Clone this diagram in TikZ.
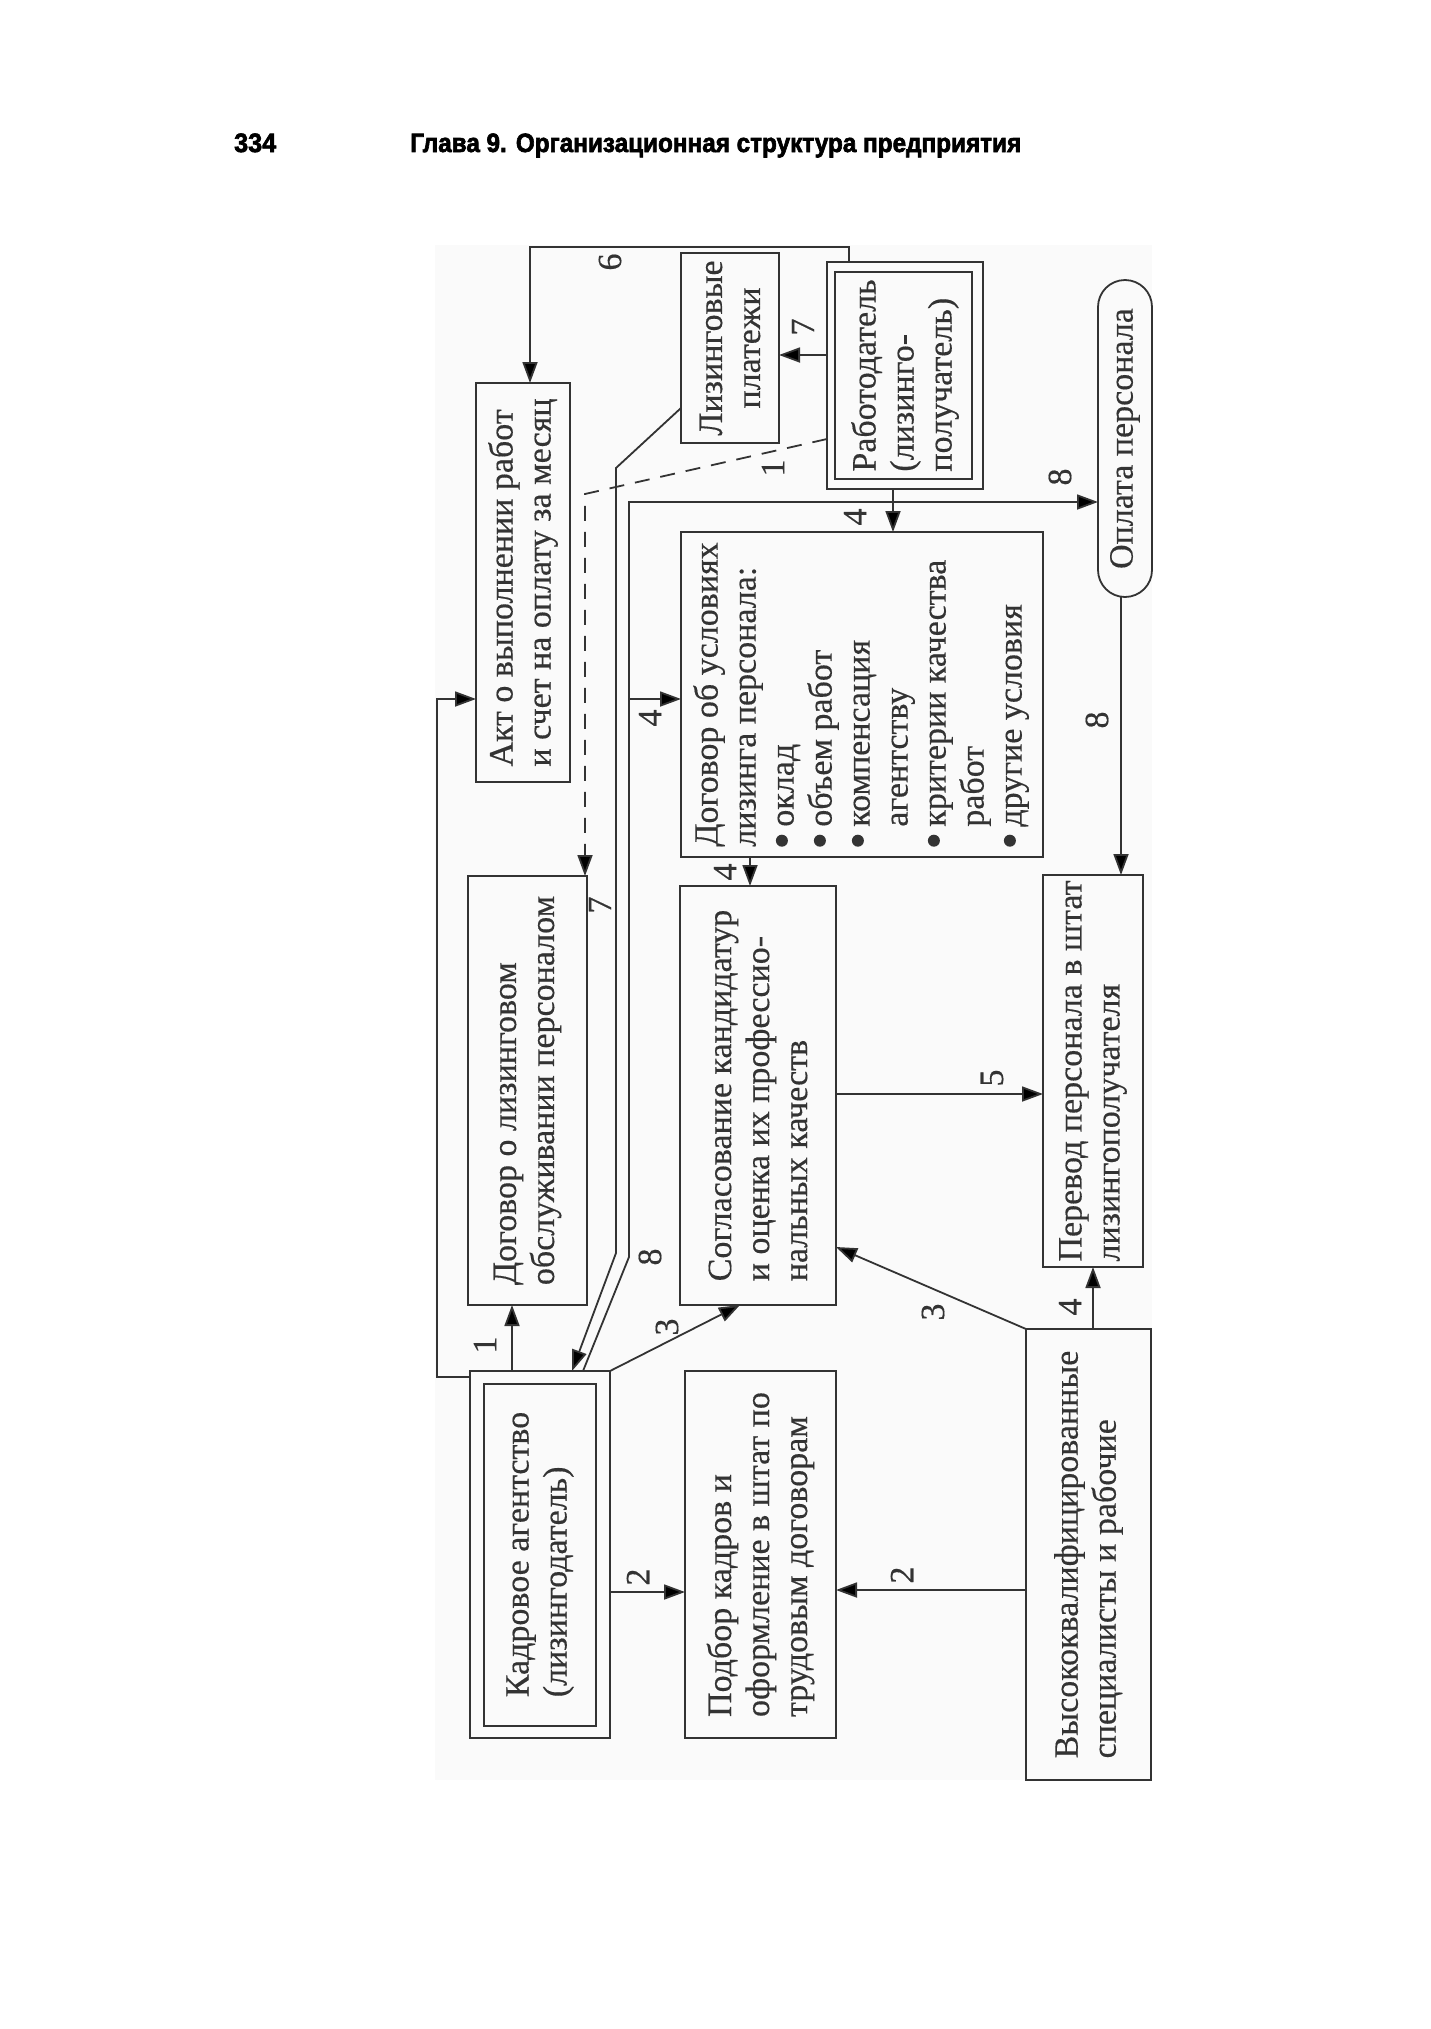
\documentclass[tikz,border=0pt]{standalone}
\usepackage{fontspec}
\setmainfont[FakeBold=0.4]{Liberation Serif}
\newfontfamily\hdrfont[FakeBold=2.5]{Liberation Sans}
\usetikzlibrary{arrows.meta}
\definecolor{ink}{gray}{0.2}
\newcommand\bigbul{\raisebox{0.25ex}{\tikz[baseline=-0.5ex]\fill[ink] (0,0) circle (6pt);}}
\begin{document}
\begin{tikzpicture}[x=1pt,y=-1pt,
  box/.style={draw=ink, line width=1.8pt, inner sep=0pt, outer sep=0pt},
  txt/.style={rotate=90, align=left, text=ink, font=\fontsize{34}{38}\selectfont, inner sep=0pt},
  lbl/.style={rotate=90, text=ink, font=\fontsize{34}{38}\selectfont, inner sep=0pt},
  conn/.style={draw=ink, line width=1.8pt},
  arr/.style={conn, -{Triangle[length=21pt,width=15pt]}},
  dsh/.style={dash pattern=on 15pt off 11pt},
]
\useasboundingbox (0,0) rectangle (1430,2029);
\fill[white] (0,0) rectangle (1430,2029);
\fill[black!2] (435,245) rectangle (1152,1780);

% header
\node[anchor=base west, inner sep=0pt] (pg) at (234,152) {\resizebox{42pt}{18.5pt}{\hdrfont\bfseries 334}};
\node[anchor=base west, inner sep=0pt] (hd) at (410,152) {\resizebox{611pt}{18.5pt}{\hdrfont\bfseries Глава 9. Организационная структура предприятия}};

% boxes
\node[box, minimum width=94pt, minimum height=399pt] (akt) at (523,582.5) {};
\node[box, minimum width=98pt, minimum height=190pt] (liz) at (730,348) {};
\node[box, minimum width=156pt, minimum height=227pt] (rab) at (905,375.5) {};
\node[box, minimum width=137pt, minimum height=207pt] (rabin) at (903.5,375.5) {};
\node[box, rounded corners=27pt, minimum width=54pt, minimum height=317pt] (opl) at (1125,438.5) {};
\node[box, minimum width=362pt, minimum height=325pt] (usl) at (862,694.5) {};
\node[box, minimum width=119pt, minimum height=429pt] (dls) at (527.5,1090.5) {};
\node[box, minimum width=156pt, minimum height=419pt] (sog) at (758,1095.5) {};
\node[box, minimum width=100pt, minimum height=392pt] (per) at (1093,1071) {};
\node[box, minimum width=140pt, minimum height=367pt] (kad) at (540,1554.5) {};
\node[box, minimum width=112pt, minimum height=342pt] (kadin) at (540,1555) {};
\node[box, minimum width=151pt, minimum height=367pt] (pod) at (760.5,1554.5) {};
\node[box, minimum width=125pt, minimum height=451pt] (vys) at (1088.5,1554.5) {};

% texts
\node[txt] (takt) at (akt) {Акт о выполнении работ\\и счет на оплату за месяц};
\node[txt, align=center] (tliz) at (liz) {Лизинговые\\платежи};
\node[txt] (trab) at (rab) {Работодатель\\(лизинго-\\получатель)};
\node[txt] (topl) at (opl) {Оплата персонала};
\node[txt] (tusl) at (usl) {\begin{tabular}{@{}l@{\hspace{8pt}}l@{}}
\multicolumn{2}{@{}l@{}}{Договор об условиях}\\
\multicolumn{2}{@{}l@{}}{лизинга персонала:}\\
\bigbul & оклад\\
\bigbul & объем работ\\
\bigbul & компенсация\\
 & агентству\\
\bigbul & критерии качества\\
 & работ\\
\bigbul & другие условия
\end{tabular}};
\node[txt] (tdls) at (dls) {Договор о лизинговом\\обслуживании персоналом};
\node[txt] (tsog) at (sog) {Согласование кандидатур\\и оценка их профессио-\\нальных качеств};
\node[txt] (tper) at (per) {Перевод персонала в штат\\лизингополучателя};
\node[txt] (tkad) at (kad) {Кадровое агентство\\(лизингодатель)};
\node[txt] (tpod) at (pod) {Подбор кадров и\\оформление в штат по\\трудовым договорам};
\node[txt] (tvys) at (vys) {Высококвалифицированные\\специалисты и рабочие};

% connectors
\draw[arr] ([xshift=22pt]rab.north west) -- ++(0,-15) -| ([xshift=54pt]akt.north west);
\draw[arr] (rab.west |- 0,355) -- (liz.east |- 0,355);
\draw[arr, dsh] (rab.west |- 0,439) -- (585,494) -- (dls.north -| 585,0);
\draw[arr] ([yshift=35pt]liz.south west) -- (616,468) -- (616,1253) -- ([xshift=102pt]kad.north west);
\draw[arr] ([xshift=113pt]kad.north west) -- (629,1257) -- (629,502) -- (opl.west |- 0,502);
\draw[arr] (629,699) -- (usl.west |- 0,699);
\draw[arr] (rab.south -| 893,0) -- (usl.north -| 893,0);
\draw[arr] (opl.south -| 1121,0) -- (per.north -| 1121,0);
\draw[arr] (usl.south -| 750,0) -- (sog.north -| 750,0);
\draw[arr] (kad.west |- 0,1377) -- (437,1377) -- (437,699) -- (akt.west |- 0,699);
\draw[arr] (kad.north -| 512,0) -- (dls.south -| 512,0);
\draw[arr] (kad.north east) -- (sog.south -| 740,0);
\draw[arr] (kad.east |- 0,1592) -- (pod.west |- 0,1592);
\draw[arr] (sog.east |- 0,1094) -- (per.west |- 0,1094);
\draw[arr] (vys.north west) -- (sog.east |- 0,1247);
\draw[arr] (vys.north -| 1093,0) -- (per.south -| 1093,0);
\draw[arr] (vys.west |- 0,1590) -- (pod.east |- 0,1590);

% labels
\node[lbl] (l1) at (610,262) {6};
\node[lbl] (l2) at (803,327) {7};
\node[lbl] (l3) at (773,468) {1};
\node[lbl] (l4) at (600,905) {7};
\node[lbl] (l5) at (1060,477) {8};
\node[lbl] (l6) at (855,517) {4};
\node[lbl] (l7) at (650,718) {4};
\node[lbl] (l8) at (1097,720) {8};
\node[lbl] (l9) at (725,872) {4};
\node[lbl] (l10) at (650,1257) {8};
\node[lbl] (l11) at (485,1345) {1};
\node[lbl] (l12) at (667,1327) {3};
\node[lbl] (l13) at (992,1078) {5};
\node[lbl] (l14) at (933,1312) {3};
\node[lbl] (l15) at (1070,1307) {4};
\node[lbl] (l16) at (638,1577) {2};
\node[lbl] (l17) at (902,1575) {2};
\end{tikzpicture}
\end{document}
